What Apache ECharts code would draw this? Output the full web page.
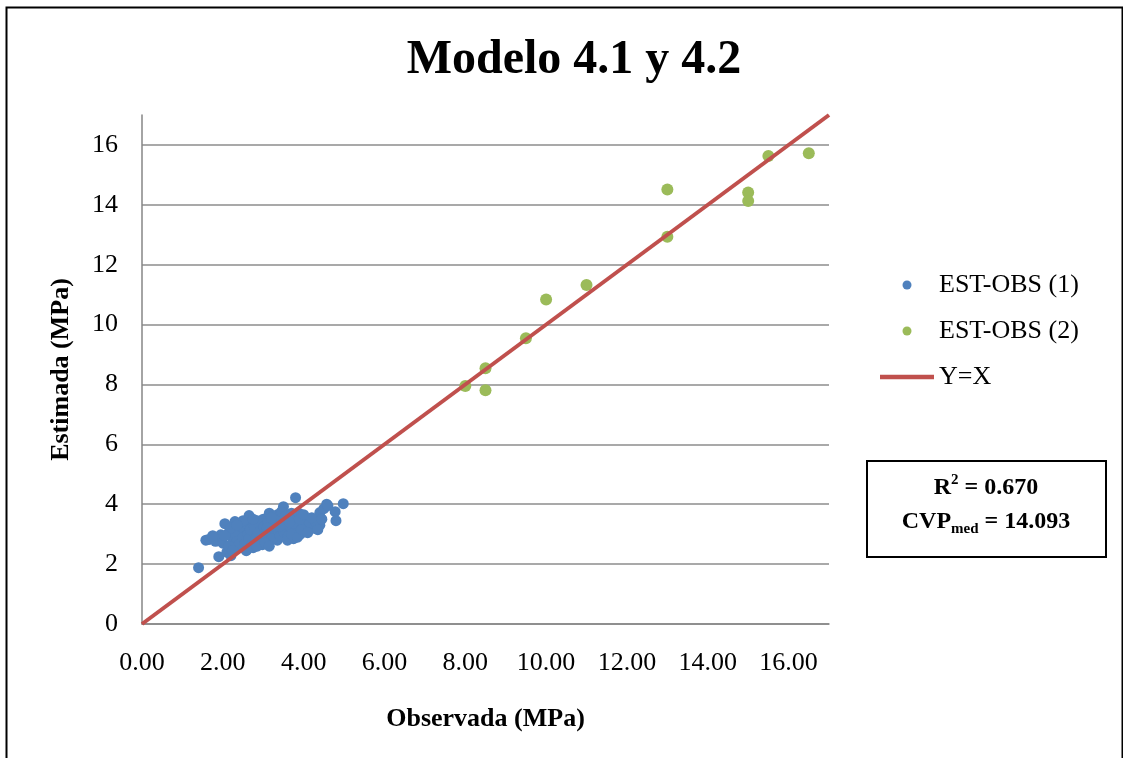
<!DOCTYPE html>
<html>
<head>
<meta charset="utf-8">
<script src="https://cdn.jsdelivr.net/npm/echarts@6/dist/echarts.min.js"></script>
<style>
html,body{margin:0;padding:0;background:#fff;}
#chart{width:1123px;height:758px;}
</style>
</head>
<body>
<div id="chart"></div>
<script>
// ---- data ----
const titleText = 'Modelo 4.1 y 4.2';
const xName = 'Observada (MPa)';
const yName = 'Estimada (MPa)';
const seriesNames = ['EST-OBS (1)', 'EST-OBS (2)', 'Y=X'];

// EST-OBS (1): [observada, estimada]
const estObs1 = [
  [1.40,1.88],[1.58,2.80],[1.65,2.82],[1.82,2.76],[1.90,2.25],[1.95,2.98],[2.00,2.70],[2.05,3.35],
  [2.10,2.40],[2.15,3.05],[2.20,2.28],[2.30,3.42],[2.35,2.55],[2.40,3.20],[2.45,2.95],[2.50,2.60],
  [2.55,3.10],[2.60,2.50],[2.65,3.62],[2.70,2.80],[2.70,3.30],[2.75,2.55],[2.80,3.05],[2.85,3.45],
  [2.90,2.70],[2.95,3.20],[3.00,2.90],[3.00,3.50],[3.05,3.10],[3.10,2.75],[3.15,3.70],[3.20,3.30],
  [3.25,2.95],[3.30,3.55],[3.30,3.15],[3.35,2.80],[3.40,3.40],[3.45,3.05],[3.50,3.92],[3.50,3.25],
  [3.55,2.90],[3.60,3.50],[3.65,3.15],[3.70,3.70],[3.75,2.85],[3.75,3.35],[3.80,4.22],[3.80,3.00],
  [3.85,3.55],[3.90,3.20],[3.95,3.40],[4.00,3.10],[4.05,3.30],[4.10,3.50],[4.20,3.35],[4.25,3.20],
  [4.40,3.72],[4.40,3.30],[4.50,3.85],[4.57,4.00],[4.78,3.75],[4.80,3.45],[4.98,4.02],[4.60,3.95],
  [2.25,2.85],[2.30,3.00],[2.35,2.75],[2.40,2.65],[2.45,3.25],[2.50,2.90],[2.55,2.70],[2.60,3.35],
  [2.62,3.00],[2.65,2.85],[2.68,3.15],[2.72,2.62],[2.78,3.25],[2.82,2.85],[2.88,3.05],[2.92,2.80],
  [2.96,3.35],[2.98,2.65],[3.02,3.25],[3.08,2.95],[3.12,3.40],[3.18,3.05],[3.22,2.85],[3.28,3.25],
  [3.32,3.45],[3.38,3.10],[3.42,2.95],[3.48,3.50],[3.52,3.05],[3.58,3.35],[3.62,2.95],[3.68,3.25],
  [3.72,3.45],[3.78,3.10],[3.82,3.35],[3.88,3.70],[3.92,3.00],[3.98,3.55],[4.02,3.45],[4.08,3.15],
  [4.15,3.35],[4.30,3.40],
  [2.50,3.45],[2.58,2.45],[2.75,3.50],[2.85,2.60],[3.05,2.70],[3.15,2.60],[3.25,3.60],[3.35,3.65],
  [3.45,3.75],[3.55,3.60],[3.60,2.80],[3.70,3.00],[3.85,2.90],[3.95,3.15],[4.10,3.05],[4.20,3.55],
  [4.35,3.15],[4.45,3.50],[2.20,3.20],[2.35,3.30],[2.05,2.95],[2.15,2.60],[1.75,2.95],[2.25,2.45],
  [3.10,3.20],[3.20,3.55],[3.40,3.25],[3.65,3.40],[3.90,3.50],[4.00,3.65]
];

// EST-OBS (2)
const estObs2 = [
  [8.0,7.95],[8.5,8.54],[8.5,7.81],[9.5,9.54],[10.0,10.84],[11.0,11.32],
  [13.0,14.51],[13.0,12.93],[15.0,14.41],[15.0,14.13],[15.5,15.63],[16.5,15.72]
];

// Y=X reference line
const lineYX = [[0,0],[17,17]];

const axisMin = 0, axisMax = 17, axisInterval = 2;
const statR2 = '0.670';
const statCVP = '14.093';

// ---- chart ----
const serif = '"Liberation Serif", "Times New Roman", "DejaVu Serif", serif';
const chart = echarts.init(document.getElementById('chart'), null, {renderer: 'canvas'});

chart.setOption({
  backgroundColor: '#ffffff',
  animation: false,
  title: {
    text: titleText,
    left: 569, top: 32, textAlign: 'center',
    textStyle: {fontFamily: serif, fontSize: 48, fontWeight: 'bold', color: '#000'}
  },
  grid: {left: 142, right: 294, top: 115, bottom: 134, containLabel: false},
  legend: {
    orient: 'vertical',
    left: 880, top: 272, padding: 0,
    itemWidth: 54, itemHeight: 9, itemGap: 20,
    textStyle: {fontFamily: serif, fontSize: 26, color: '#000'},
    data: [
      {name: seriesNames[0], icon: 'circle'},
      {name: seriesNames[1], icon: 'circle'},
      {name: seriesNames[2], icon: 'path://M0,0L54,0L54,4.5L0,4.5Z', itemStyle: {color: '#C0504D'}}
    ]
  },
  xAxis: {
    type: 'value', min: axisMin, max: axisMax, interval: axisInterval,
    name: xName, nameLocation: 'middle', nameGap: 82,
    nameTextStyle: {fontFamily: serif, fontSize: 26, fontWeight: 'bold', color: '#000'},
    axisLine: {show: true, onZero: false, lineStyle: {color: '#868686', width: 1.5}},
    axisTick: {show: false},
    splitLine: {show: false},
    axisLabel: {
      fontFamily: serif, fontSize: 26, color: '#000', margin: 26,
      showMaxLabel: false,
      formatter: v => v.toFixed(2)
    }
  },
  yAxis: {
    type: 'value', min: axisMin, max: axisMax, interval: axisInterval,
    name: yName, nameLocation: 'middle', nameGap: 68, nameRotate: 90,
    nameTextStyle: {fontFamily: serif, fontSize: 26, fontWeight: 'bold', color: '#000'},
    axisLine: {show: true, onZero: false, lineStyle: {color: '#868686', width: 1.5}},
    axisTick: {show: false},
    splitLine: {show: true, showMaxLine: false, lineStyle: {color: '#8c8c8c', width: 1.5}},
    axisLabel: {
      fontFamily: serif, fontSize: 26, color: '#000', margin: 24,
      showMaxLabel: false
    }
  },
  series: [
    {
      name: seriesNames[0], type: 'scatter', data: estObs1,
      symbol: 'circle', symbolSize: 11,
      itemStyle: {color: '#4F81BD', opacity: 1}, z: 2
    },
    {
      name: seriesNames[1], type: 'scatter', data: estObs2,
      symbol: 'circle', symbolSize: 12,
      itemStyle: {color: '#9BBB59', opacity: 1}, z: 2
    },
    {
      name: seriesNames[2], type: 'line', data: lineYX,
      symbol: 'none', lineStyle: {color: '#C0504D', width: 4},
      itemStyle: {color: '#C0504D'}, z: 3
    }
  ],
  graphic: [
    {
      type: 'rect', left: 4, top: 5, z: 100, silent: true,
      shape: {width: 1116, height: 770},
      style: {fill: 'none', stroke: '#000', lineWidth: 2}
    },
    {
      type: 'rect', left: 866, top: 460, z: 100,
      shape: {width: 239, height: 96},
      style: {fill: '#fff', stroke: '#000', lineWidth: 2}
    },
    {
      type: 'text', x: 986, y: 473, z: 101,
      style: {
        text: '{b|R}{sup|2}{b| = ' + statR2 + '}',
        align: 'center', textAlign: 'center',
        rich: {
          b: {fontFamily: serif, fontSize: 24, fontWeight: 'bold', color: '#000', lineHeight: 30},
          sup: {fontFamily: serif, fontSize: 15, fontWeight: 'bold', color: '#000', verticalAlign: 'top', lineHeight: 18}
        }
      }
    },
    {
      type: 'text', x: 986, y: 507, z: 101,
      style: {
        text: '{b|CVP}{sub|med}{b| = ' + statCVP + '}',
        align: 'center', textAlign: 'center',
        rich: {
          b: {fontFamily: serif, fontSize: 24, fontWeight: 'bold', color: '#000', lineHeight: 30},
          sub: {fontFamily: serif, fontSize: 15, fontWeight: 'bold', color: '#000', verticalAlign: 'bottom', lineHeight: 18}
        }
      }
    }
  ]
});
</script>
</body>
</html>
